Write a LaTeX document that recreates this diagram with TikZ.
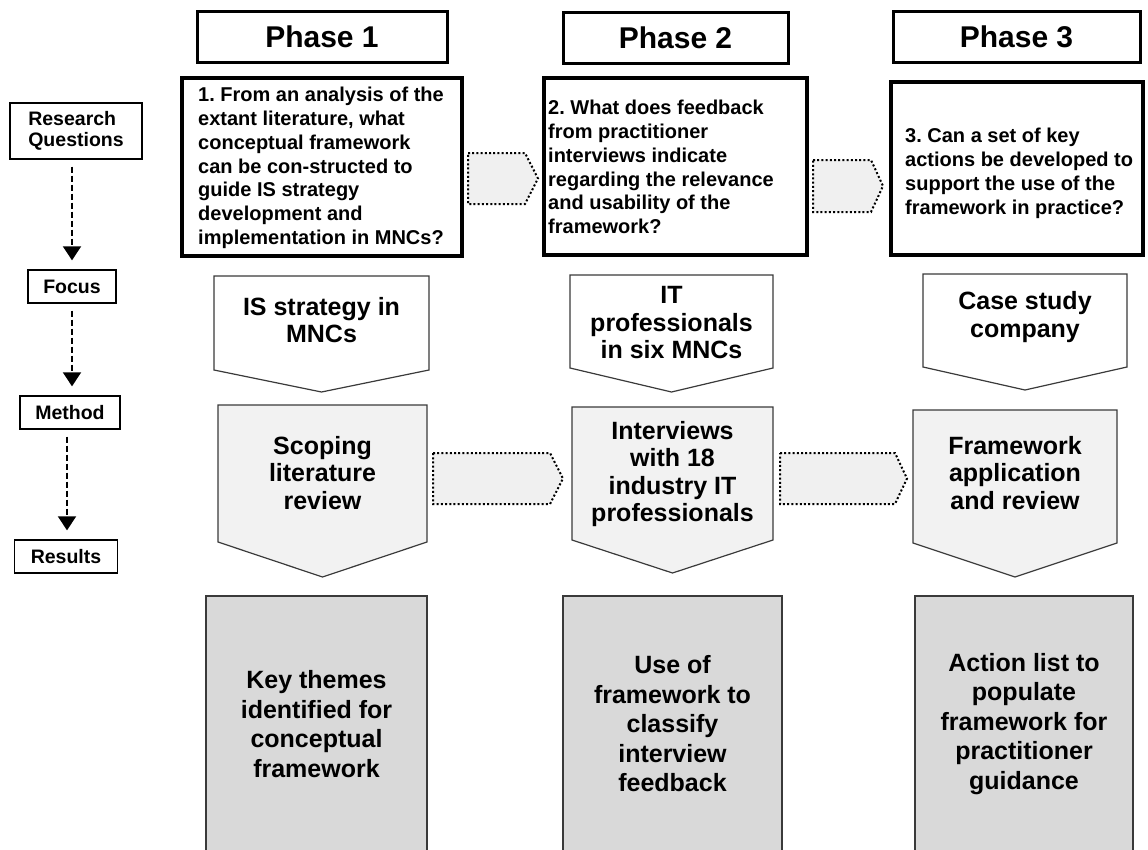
\documentclass[tikz,border=0pt]{standalone}
\usepackage{fontspec}
\setmainfont{Liberation Sans}
\usetikzlibrary{arrows.meta}
\definecolor{methodfill}{HTML}{F2F2F2}
\definecolor{resultfill}{HTML}{D9D9D9}
\definecolor{linkfill}{HTML}{F0F0F0}
\definecolor{edgegray}{HTML}{3A3A3A}
\frenchspacing
\begin{document}
\begin{tikzpicture}[x=1pt,y=-1pt,
  phasebox/.style={draw=black,line width=3pt,inner sep=0pt,
    font=\fontsize{30}{34}\selectfont\bfseries},
  questionbox/.style={draw=black,line width=3.5pt,inner sep=0pt},
  questiontext/.style={anchor=north west,inner sep=0pt,align=left,
    font=\fontsize{20}{23.8}\selectfont\bfseries},
  labelbox/.style={draw=black,line width=1.4pt,inner sep=0pt,align=left,
    font=\fontsize{19.5}{21}\selectfont\bfseries},
  flowarrow/.style={line width=2.2pt,dash pattern=on 6pt off 3pt,
    -{Triangle[width=18pt,length=14pt]},shorten <=7pt,shorten >=9pt},
  focusshape/.style={draw=edgegray,line width=1.2pt,fill=white,line join=miter},
  methodshape/.style={draw=edgegray,line width=1.2pt,fill=methodfill,line join=miter},
  stagetext/.style={inner sep=0pt,align=center,
    font=\fontsize{25}{27.5}\selectfont\bfseries},
  resultbox/.style={draw=edgegray,line width=1.2pt,fill=resultfill,inner sep=0pt,
    align=center,font=\fontsize{25}{29.5}\selectfont\bfseries},
  linkshape/.style={draw=black,fill=linkfill,line width=2pt,
    dash pattern=on 2pt off 2.2pt,line join=miter}
]
\useasboundingbox (0,0) rectangle (1148,849);

% row labels and the dashed flow between them
\node[labelbox,minimum width=132,minimum height=56] (rq) at (76,131) {Research\\Questions};
\node[labelbox,minimum width=88,minimum height=33] (focus) at (72,286.5) {Focus};
\node[labelbox,minimum width=100,minimum height=33] (method) at (70,412.5) {Method};
\node[labelbox,minimum width=103,minimum height=33] (results) at (66,556.5) {Results};
\draw[flowarrow] (rq.south -| focus.north) -- (focus.north);
\draw[flowarrow] (focus.south) -- (focus.south |- method.north);
\draw[flowarrow] (method.south -| 67,0) -- (results.north -| 67,0);

% phase headers
\node[phasebox,minimum width=250,minimum height=51] (ph1) at (322,36.5) {Phase 1};
\node[phasebox,minimum width=225,minimum height=51] (ph2) at (675.5,37.5) {Phase 2};
\node[phasebox,minimum width=247,minimum height=51] (ph3) at (1016.5,36.5) {Phase 3};

% links between the research questions
\draw[linkshape] (468,153) -- (525,153) -- (538,178.5) -- (525,204) -- (468,204) -- cycle;
\draw[linkshape] (813,160) -- (871,160) -- (883,186) -- (871,212) -- (813,212) -- cycle;

% research questions
\node[questionbox,minimum width=280,minimum height=178] (q1box) at (322,167) {};
\node[questionbox,minimum width=263,minimum height=177] (q2box) at (675.5,166.5) {};
\node[questionbox,minimum width=252,minimum height=173] (q3box) at (1017,168.5) {};
\node[questiontext] (q1) at (198,87) {1. From an analysis of the\\extant literature, what\\conceptual framework\\can be con-structed to\\guide IS strategy\\development and\\implementation in MNCs?};
\node[questiontext] (q2) at (548,100) {2. What does feedback\\from practitioner\\interviews indicate\\regarding the relevance\\and usability of the\\framework?};
\node[questiontext] (q3) at (905,128) {3. Can a set of key\\actions be developed to\\support the use of the\\framework in practice?};

% focus row
\draw[focusshape] (214,276) -- (429,276) -- (429,370) -- (321.5,392) -- (214,370) -- cycle;
\draw[focusshape] (570,275) -- (773,275) -- (773,368) -- (671.5,392) -- (570,368) -- cycle;
\draw[focusshape] (923,274) -- (1127,274) -- (1127,367) -- (1025,390) -- (923,367) -- cycle;
\node[stagetext] (f1) at (321.5,320) {IS strategy in\\MNCs};
\node[stagetext] (f2) at (671.5,323) {IT\\professionals\\in six MNCs};
\node[stagetext] (f3) at (1025,317) {Case study\\company};

% method row and the links between methods
\draw[linkshape] (433,453) -- (550,453) -- (563,478.5) -- (550,504) -- (433,504) -- cycle;
\draw[linkshape] (780,453) -- (895,453) -- (907,478.5) -- (895,504) -- (780,504) -- cycle;
\draw[methodshape] (218,405) -- (427,405) -- (427,542) -- (322.5,577) -- (218,542) -- cycle;
\draw[methodshape] (572,407) -- (773,407) -- (773,540) -- (672.5,573) -- (572,540) -- cycle;
\draw[methodshape] (913,410) -- (1117,410) -- (1117,543) -- (1015,577) -- (913,543) -- cycle;
\node[stagetext] (m1) at (322.5,473) {Scoping\\literature\\review};
\node[stagetext] (m2) at (672.5,474) {Interviews\\with 18\\industry IT\\professionals};
\node[stagetext] (m3) at (1015,473) {Framework\\application\\and review};

% results row
\node[resultbox,minimum width=221,minimum height=256] (r1) at (316.5,724) {Key themes\\identified for\\conceptual\\framework};
\node[resultbox,minimum width=219,minimum height=256] (r2) at (672.5,724) {Use of\\framework to\\classify\\interview\\feedback};
\node[resultbox,minimum width=218,minimum height=256] (r3) at (1024,724) {Action list to\\populate\\framework for\\practitioner\\guidance};
\end{tikzpicture}
\end{document}
